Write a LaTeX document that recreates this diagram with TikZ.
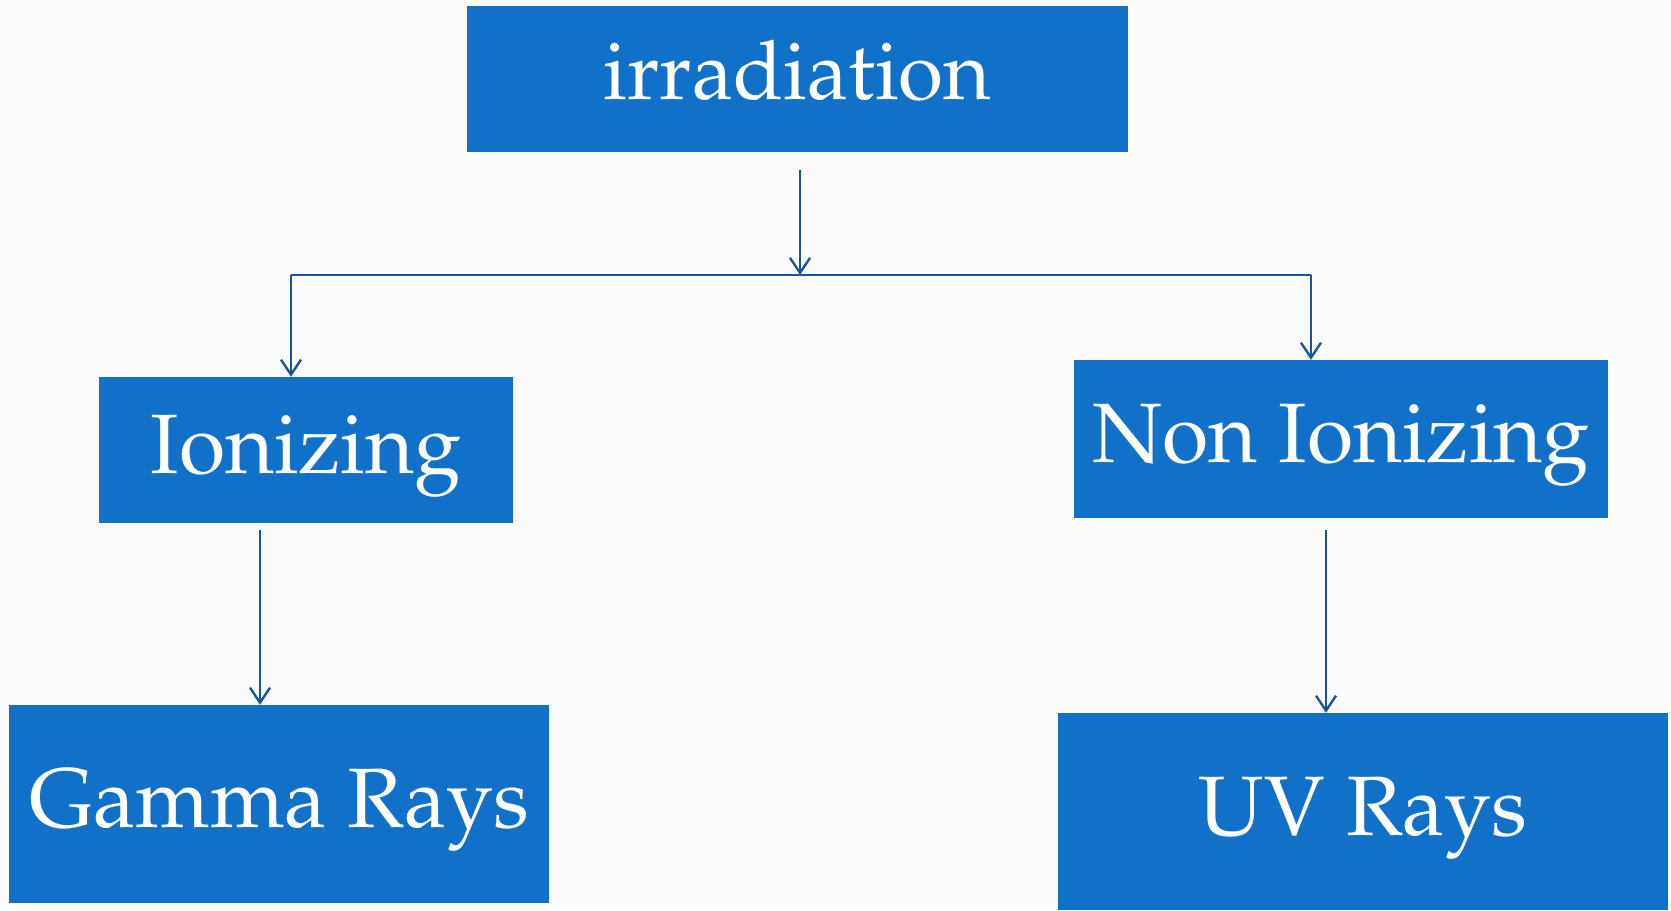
\documentclass[tikz,border=0pt]{standalone}
\usepackage[T1]{fontenc}
\usepackage{mathpazo}
\usepackage{tikz}
\usetikzlibrary{arrows.meta,positioning,calc}
\definecolor{boxblue}{RGB}{17,112,200}
\definecolor{linkblue}{RGB}{24,84,156}
\definecolor{paper}{RGB}{252,252,252}

\begin{document}
\begin{tikzpicture}[
  x=0.03cm, y=-0.03cm,
  box/.style={fill=boxblue, text=white, inner sep=0pt, align=center, text depth=0.32cm, font=\fontsize{72}{78}\selectfont},
  link/.style={draw=linkblue, line width=2pt},
  arr/.style={link, -{Straight Barb[length=4.5mm, width=6mm, line width=2pt]}},
]
  % background
  \fill[paper] (0,0) rectangle (1671,910);
  \useasboundingbox (0,0) rectangle (1671,910);

  % boxes
  \node[box, minimum width=19.83cm, minimum height=4.38cm, text depth=0.55cm, font=\fontsize{70}{76}\selectfont] (irr) at (797.5,79) {irradiation};
  \node[box, minimum width=12.42cm, minimum height=4.38cm] (ion) at (306,450) {Ionizing};
  \node[box, minimum width=16.02cm, minimum height=4.74cm] (non) at (1341,439) {Non Ionizing};
  \node[box, minimum width=16.2cm, minimum height=5.94cm] (gamma) at (279,804) {Gamma Rays};
  \node[box, minimum width=18.3cm, minimum height=5.91cm] (uv) at (1363,811.5) {UV Rays};

  % split
  \coordinate (irrout) at (800,170);
  \coordinate (split) at (800,275);
  \coordinate (lturn) at (291,275);
  \coordinate (rturn) at (1311,275);

  \draw[arr] (irrout) -- (split);
  \draw[link] (lturn) -- (rturn);
  \draw[arr] (lturn) -- (lturn |- ion.north);
  \draw[arr] (rturn) -- (rturn |- non.north);

  % second level
  \coordinate (ionout) at ($(ion.south)+(-46,7)$);
  \coordinate (nonout) at ($(non.south)+(-15,12)$);
  \draw[arr] (ionout) -- (ionout |- gamma.north);
  \draw[arr] (nonout) -- (nonout |- uv.north);
\end{tikzpicture}
\end{document}
